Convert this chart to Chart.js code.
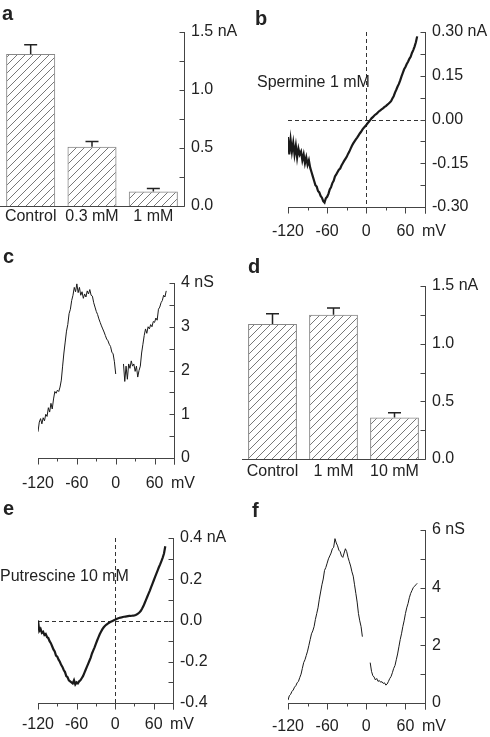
<!DOCTYPE html>
<html lang="en">
<head>
<meta charset="UTF-8" />
<title>Polyamine block of the current</title>
<script src="https://cdn.jsdelivr.net/npm/chart.js"></script>
<style>
  body{margin:0;background:#fff;}
  #fig{position:relative;width:490px;height:737px;overflow:hidden;font-family:"Liberation Sans",Arial,sans-serif;color:#222;}
  #fig canvas{position:absolute;}
  .lbl{position:absolute;font-weight:bold;font-size:20px;line-height:20px;}
  .note{position:absolute;font-size:16px;line-height:16px;white-space:nowrap;}
</style>
</head>
<body>
<div id="fig">
  <canvas id="pa" width="245" height="235" style="left:0;top:0"></canvas>
  <canvas id="pb" width="245" height="240" style="left:245px;top:0"></canvas>
  <canvas id="pc" width="245" height="255" style="left:0;top:240px"></canvas>
  <canvas id="pd" width="255" height="240" style="left:235px;top:240px"></canvas>
  <canvas id="pe" width="245" height="242" style="left:0;top:495px"></canvas>
  <canvas id="pf" width="245" height="242" style="left:245px;top:495px"></canvas>
  <div class="lbl" style="left:2px;top:3px">a</div>
  <div class="lbl" style="left:255px;top:8px">b</div>
  <div class="lbl" style="left:3px;top:246px">c</div>
  <div class="lbl" style="left:248px;top:256px">d</div>
  <div class="lbl" style="left:3px;top:498px">e</div>
  <div class="lbl" style="left:252px;top:500px">f</div>
  <div class="note" style="left:257px;top:74px">Spermine 1 mM</div>
  <div class="note" style="left:0;top:568px">Putrescine 10 mM</div>
</div>
<script>
// bar panels (a: spermine, d: putrescine)
const aCats = ['Control', '0.3 mM', '1 mM'];
const aMean = [1.31, 0.51, 0.125];
const aSem  = [0.08, 0.045, 0.025];
const dCats = ['Control', '1 mM', '10 mM'];
const dMean = [1.17, 1.25, 0.36];
const dSem  = [0.09, 0.06, 0.04];

// voltage sweep shared by the trace panels (mV)
const sweep = [
  -120,-118,-116,-114,-112,-110,-108,-106,-104,-102,
  -100,-98,-96,-94,-92,-90,-88,-86,-84,-82,
  -80,-78,-76,-74,-72,-70,-68,-66,-64,-62,
  -60,-58,-56,-54,-52,-50,-48,-46,-44,-42,
  -40,-38,-36,-34,-32,-30,-28,-26,-24,-22,
  -20,-18,-16,-14,-12,-10,-8,-6,-4,-2,
  0,2,4,6,8,10,12,14,16,18,
  20,22,24,26,28,30,32,34,36,38,
  40,42,44,46,48,50,52,54,56,58,
  60,62,64,66,68,70,72,74,76,78];

// b: current with spermine 1 mM (nA)
const bCurrent = [
  -0.06,-0.12,-0.07,-0.11,-0.08,-0.12,-0.09,-0.13,-0.10,-0.12,
  -0.11,-0.14,-0.12,-0.15,-0.13,-0.155,-0.14,-0.165,-0.18,-0.195,
  -0.21,-0.225,-0.23,-0.245,-0.25,-0.262,-0.268,-0.28,-0.285,-0.27,
  -0.265,-0.255,-0.24,-0.232,-0.218,-0.21,-0.195,-0.188,-0.18,-0.172,
  -0.168,-0.158,-0.15,-0.142,-0.135,-0.128,-0.118,-0.11,-0.1,-0.09,
  -0.082,-0.075,-0.068,-0.062,-0.055,-0.048,-0.042,-0.035,-0.029,-0.024,
  -0.019,-0.013,-0.008,-0.002,0.004,0.008,0.013,0.017,0.02,0.025,
  0.029,0.032,0.036,0.039,0.043,0.046,0.05,0.054,0.058,0.063,
  0.072,0.08,0.092,0.102,0.113,0.122,0.134,0.148,0.16,0.172,
  0.18,0.19,0.198,0.208,0.215,0.228,0.238,0.25,0.265,0.285];

// c: conductance with spermine (nS)
const cCond = [
  0.6,0.82,0.9,0.78,0.92,0.85,1.0,0.95,1.15,1.05,
  1.25,1.12,1.35,1.52,1.48,1.55,1.52,1.62,1.78,2.1,
  2.4,2.65,2.9,3.05,3.3,3.4,3.6,3.72,3.9,3.8,
  3.98,3.78,3.9,3.72,3.8,3.65,3.75,3.68,3.82,3.75,
  3.85,3.72,3.7,3.55,3.45,3.35,3.28,3.18,3.1,3.02,
  2.95,2.88,2.8,2.72,2.68,2.6,2.55,2.42,2.38,2.2,
  1.92,null,null,null,null,null,2.15,1.75,2.1,1.8,
  2.15,2.05,2.22,2.1,2.15,1.98,2.1,1.85,2.0,2.1,
  2.4,2.6,2.8,2.95,2.85,3.0,2.95,3.05,3.0,3.12,
  3.1,3.2,3.15,3.4,3.45,3.55,3.6,3.72,3.68,3.82];

// e: current with putrescine 10 mM (nA)
const eCurrent = [
  0.0,-0.05,-0.04,-0.06,-0.055,-0.07,-0.065,-0.08,-0.085,-0.1,
  -0.11,-0.125,-0.14,-0.15,-0.17,-0.175,-0.19,-0.2,-0.215,-0.225,
  -0.24,-0.25,-0.27,-0.275,-0.29,-0.295,-0.3,-0.305,-0.29,-0.31,
  -0.3,-0.305,-0.295,-0.29,-0.28,-0.27,-0.255,-0.24,-0.225,-0.21,
  -0.195,-0.18,-0.16,-0.145,-0.13,-0.113,-0.097,-0.082,-0.067,-0.055,
  -0.043,-0.034,-0.027,-0.021,-0.016,-0.012,-0.008,-0.005,-0.002,0.001,
  0.004,0.007,0.01,0.012,0.014,0.015,0.017,0.018,0.019,0.02,
  0.021,0.022,0.022,0.023,0.024,0.025,0.027,0.03,0.034,0.04,
  0.047,0.058,0.07,0.085,0.1,0.115,0.13,0.145,0.162,0.178,
  0.194,0.21,0.226,0.242,0.258,0.272,0.288,0.305,0.325,0.36];

// f: conductance with putrescine (nS)
const fCond = [
  0.1,0.25,0.3,0.4,0.45,0.55,0.6,0.7,0.75,0.88,
  1.0,1.2,1.4,1.5,1.65,1.8,2.0,2.2,2.4,2.5,
  2.65,2.9,3.1,3.3,3.6,3.85,4.1,4.3,4.6,4.7,
  4.85,5.0,5.1,5.2,5.35,5.4,5.7,5.55,5.45,5.3,
  5.25,5.1,5.05,5.2,5.35,5.25,5.05,4.9,4.75,4.55,
  4.4,4.1,3.8,3.5,3.1,2.85,2.65,2.3,null,null,
  null,null,null,1.4,1.1,0.95,0.9,0.8,0.85,0.75,
  0.78,0.72,0.74,0.68,0.7,0.62,0.66,0.75,0.85,0.92,
  1.05,1.2,1.3,1.5,1.7,1.95,2.2,2.4,2.65,2.85,
  3.1,3.3,3.45,3.65,3.8,3.9,4.0,4.05,4.1,4.15];

// tick values and labels (the unit sits just right of the last tick)
const mvTicks  = [-120, -90, -60, -30, 0, 30, 60, 90];
const mvLabels = ['-120', '', '-60', '', '0', '', '60', '    mV'];
const barTicks  = [0, 0.25, 0.5, 0.75, 1, 1.25, 1.5];
const barLabels = ['0.0', '', '0.5', '', '1.0', '', '1.5 nA'];
const bTicks  = [-0.3, -0.225, -0.15, -0.075, 0, 0.075, 0.15, 0.225, 0.3];
const bLabels = ['-0.30', '', '-0.15', '', '0.00', '', '0.15', '', '0.30 nA'];
const cTicks  = [0, 0.5, 1, 1.5, 2, 2.5, 3, 3.5, 4];
const cLabels = ['0', '', '1', '', '2', '', '3', '', '4 nS'];
const eTicks  = [-0.4, -0.3, -0.2, -0.1, 0, 0.1, 0.2, 0.3, 0.4];
const eLabels = ['-0.4', '', '-0.2', '', '0.0', '', '0.2', '', '0.4 nA'];
const fTicks  = [0, 1, 2, 3, 4, 5, 6];
const fLabels = ['0', '', '2', '', '4', '', '6 nS'];

Chart.defaults.font.family = '"Liberation Sans", Arial, sans-serif';
Chart.defaults.font.size = 16;
Chart.defaults.color = '#222';

const AXIS = '#444';

// axis lines, inward y ticks, outward x ticks, zero lines, error bars
const frame = {
  id: 'frame',
  beforeDatasetsDraw(chart, args, o) {
    if (!o.zeroLines) return;
    const {ctx, chartArea: a, scales: {x, y}} = chart;
    const px = Math.round(x.getPixelForValue(0)) + 0.5;
    const py = Math.round(y.getPixelForValue(0)) + 0.5;
    ctx.save();
    ctx.strokeStyle = '#333'; ctx.lineWidth = 1; ctx.setLineDash([4, 3]);
    ctx.beginPath();
    ctx.moveTo(a.left, py); ctx.lineTo(a.right, py);
    ctx.moveTo(px, a.top); ctx.lineTo(px, a.bottom);
    ctx.stroke();
    ctx.restore();
  },
  afterDatasetsDraw(chart, args, o) {
    const {ctx, chartArea: a, scales: {x, y}} = chart;
    const r = Math.round(a.right) + 0.5, b = Math.round(a.bottom) + 0.5;
    ctx.save();
    ctx.strokeStyle = AXIS; ctx.lineWidth = 1;
    ctx.beginPath();
    ctx.moveTo(r, a.top); ctx.lineTo(r, b + (o.xTicks ? 6 : 0));
    ctx.moveTo(a.left, b); ctx.lineTo(r, b);
    y.ticks.forEach(t => {
      const py = Math.round(y.getPixelForValue(t.value)) + 0.5;
      ctx.moveTo(r - 5, py); ctx.lineTo(r, py);
    });
    if (o.xTicks) {
      x.ticks.forEach((t, i) => {
        const px = Math.round(x.getPixelForValue(t.value)) + 0.5;
        ctx.moveTo(px, b); ctx.lineTo(px, b + (mvLabels[i] ? 6 : 3));
      });
    }
    ctx.stroke();
    if (o.sem) {
      const meta = chart.getDatasetMeta(0);
      const vals = chart.data.datasets[0].data;
      ctx.strokeStyle = '#222'; ctx.lineWidth = 1.5;
      ctx.beginPath();
      meta.data.forEach((el, i) => {
        const top = y.getPixelForValue(vals[i] + o.sem[i]);
        ctx.moveTo(el.x, el.y); ctx.lineTo(el.x, top);
        ctx.moveTo(el.x - 6.5, top); ctx.lineTo(el.x + 6.5, top);
      });
      ctx.stroke();
    }
    ctx.restore();
  }
};

function hatch() {
  const c = document.createElement('canvas');
  c.width = c.height = 8;
  const g = c.getContext('2d');
  g.strokeStyle = '#555'; g.lineWidth = 0.8;
  g.beginPath();
  g.moveTo(0, 8); g.lineTo(8, 0);
  g.moveTo(-1, 1); g.lineTo(1, -1);
  g.moveTo(7, 9); g.lineTo(9, 7);
  g.stroke();
  return g.createPattern(c, 'repeat');
}

function yAxis(min, max, ticks, labels, width) {
  return {
    position: 'right', min, max,
    afterBuildTicks: s => { s.ticks = ticks.map(v => ({value: v})); },
    afterFit: s => { s.width = width; },
    ticks: {padding: 7, autoSkip: false, callback: (v, i) => labels[i]},
    grid: {display: false, drawTicks: false},
    border: {display: false}
  };
}

function barPanel(id, cats, mean, sem, pad, yW, xH, lblPad) {
  new Chart(document.getElementById(id), {
    type: 'bar',
    data: {labels: cats, datasets: [{
      data: mean, backgroundColor: hatch(), borderColor: '#888', borderWidth: 1,
      barPercentage: 1, categoryPercentage: 0.8
    }]},
    options: {
      responsive: false, animation: false, events: [],
      layout: {padding: {left: pad[0], top: pad[1], right: 0, bottom: 0}},
      plugins: {legend: {display: false}, tooltip: {enabled: false}, frame: {sem}},
      scales: {
        x: {
          afterFit: s => { s.height = xH; },
          ticks: {padding: lblPad, autoSkip: false, maxRotation: 0},
          grid: {display: false, drawTicks: false}, border: {display: false}
        },
        y: yAxis(0, 1.5, barTicks, barLabels, yW)
      }
    },
    plugins: [frame]
  });
}

function tracePanel(id, values, yMin, yMax, yTicks, yLabels, width, zero, pad, yW, xH, lblPad) {
  new Chart(document.getElementById(id), {
    type: 'line',
    data: {datasets: [{
      data: sweep.map((v, i) => ({x: v, y: values[i]})),
      borderColor: '#1a1a1a', borderWidth: width, pointRadius: 0, tension: 0, spanGaps: false
    }]},
    options: {
      responsive: false, animation: false, events: [],
      layout: {padding: {left: pad[0], top: pad[1], right: 0, bottom: 0}},
      plugins: {legend: {display: false}, tooltip: {enabled: false}, frame: {zeroLines: zero, xTicks: true}},
      scales: {
        x: {
          type: 'linear', min: -120, max: 90,
          afterBuildTicks: s => { s.ticks = mvTicks.map(v => ({value: v})); },
          afterFit: s => { s.height = xH; },
          ticks: {padding: lblPad, autoSkip: false, maxRotation: 0, callback: (v, i) => mvLabels[i]},
          grid: {display: false, drawTicks: false}, border: {display: false}
        },
        y: yAxis(yMin, yMax, yTicks, yLabels, yW)
      }
    },
    plugins: [frame]
  });
}

barPanel('pa', aCats, aMean, aSem, [0, 32], 61, 29, 1);
tracePanel('pb', bCurrent, -0.3, 0.3, bTicks, bLabels, 2.2, true, [43, 32], 65, 33, 15);
tracePanel('pc', cCond, 0, 4, cTicks, cLabels, 1, false, [38, 43], 71, 37, 16);
barPanel('pd', dCats, dMean, dSem, [7, 46], 65, 21, 3);
tracePanel('pe', eCurrent, -0.4, 0.4, eTicks, eLabels, 2.2, true, [38, 43], 72, 34, 12);
tracePanel('pf', fCond, 0, 6, fTicks, fLabels, 1, false, [43, 35], 65, 34, 14);
</script>
</body>
</html>
